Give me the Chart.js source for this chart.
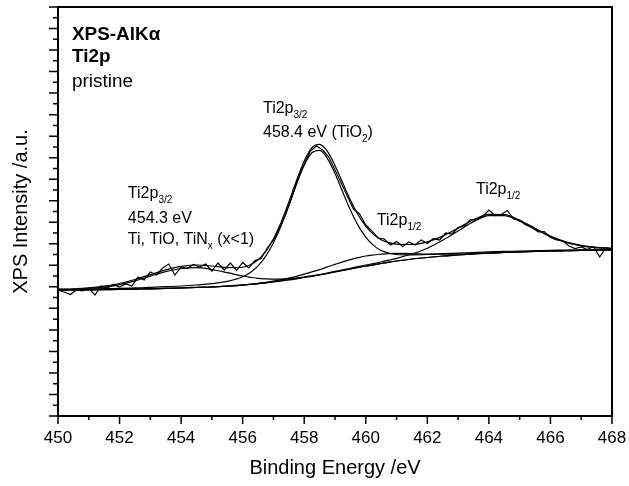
<!DOCTYPE html>
<html><head><meta charset="utf-8">
<script src="https://cdn.jsdelivr.net/npm/chart.js@4.4.0/dist/chart.umd.min.js"></script>
<style>html,body{margin:0;padding:0;background:#fff}</style>
</head><body>
<canvas id="c" width="629" height="486"></canvas>
<script>
// ---- fitted curves (binding energy grid, eV) ----
const fitEnergy = [450,450.5,451,451.5,452,452.5,453,453.5,454,454.5,455,455.5,456,
  456.25,456.5,456.75,457,457.25,457.5,457.75,458,458.25,458.5,458.75,459,459.25,459.5,459.75,460,460.25,460.5,460.75,461,
  461.5,462,462.5,463,463.5,464,464.5,465,465.5,466,466.5,467,467.5,468];
const background = [126,126,126.2,126.4,126.6,126.9,127.2,127.6,128,128.5,129,129.8,130.8,
  131.5,132.2,133.1,134,135,136,137.2,138.5,139.7,141,142.5,144,145.5,147,148.5,150,151.2,152.5,153.8,155,
  157,158.5,160,161,162,162.8,163.5,164,164.5,165,165.3,165.6,165.8,166];
const peakTi32 = [126.1,126.4,127.3,128.8,131.4,135.2,139.9,144.4,147.5,148.3,146.5,143.4,140.0,
  138.7,137.6,137.1,136.8,136.9,137.3,138.0,139.0,140.0,141.2,142.6,144.0,145.5,147,148.5,150,151.2,152.5,153.8,155,
  157,158.5,160,161,162,162.8,163.5,164,164.5,165,165.3,165.6,165.8,166];
const peakTiO2_32 = [126.6,126.7,126.9,127.3,127.6,128.1,128.6,129.3,130.0,131.0,132.3,134.6,139.2,
  143.5,150.1,159.8,173.2,190.3,210.5,231.8,250.8,263.2,265.6,257.7,242.4,224.0,206.0,190.6,178.9,170.6,165.5,162.8,161.5,
  161.1,161.5,162.3,162.9,163.5,164.1,164.6,164.9,165.3,165.7,165.9,166.2,166.3,166.5];
const peakTi12 = [126,126,126.2,126.4,126.6,126.9,127.2,127.6,128,128.5,129,129.85,130.9,
  131.7,132.6,133.7,134.9,136.3,137.8,139.7,141.9,144.1,146.4,149.1,151.6,154.1,156.3,158.3,160.0,161.0,161.8,162.4,162.6,
  162.4,161.9,161.8,161.9,162.4,162.9,163.5,164,164.5,165,165.3,165.6,165.8,166];
const peakTiO2_12 = [126.1,126.1,126.3,126.5,126.7,127.0,127.35,127.75,128.2,128.7,129.2,130.0,131.05,
  131.8,132.5,133.4,134.3,135.3,136.4,137.6,138.9,140.2,141.5,143.0,144.6,146.1,147.7,149.35,151.0,152.4,154.0,155.8,157.7,
  162.0,167.8,175.8,185.1,194.4,200.3,200.4,194.9,186.9,179.3,173.5,170.0,168.2,167.4];
const envelope = [126.8,127.2,128.1,129.8,132.5,136.5,141.4,146.2,149.7,151.0,150.0,148.45,148.75,
  151.2,156.2,164.7,177.2,193.8,214.0,235.5,255.1,268.4,271.7,264.9,250.6,233.2,216.0,201.25,189.9,181.6,176.3,173.4,171.8,
  171.5,174.2,179.9,187.9,196.3,201.7,201.5,195.8,187.7,180.0,174.1,170.55,168.7,167.85];

// ---- measured spectrum ----
const dataEnergy = [450.0,450.2,450.4,450.6,450.8,451.0,451.2,451.4,451.6,451.8,
  452.0,452.2,452.4,452.6,452.8,453.0,453.2,453.4,453.6,453.8,
  454.0,454.2,454.4,454.6,454.8,455.0,455.2,455.4,455.6,455.8,
  456.0,456.2,456.4,456.6,456.8,457.0,457.2,457.4,457.6,457.8,
  458.0,458.2,458.4,458.6,458.8,459.0,459.2,459.4,459.6,459.8,
  460.0,460.2,460.4,460.6,460.8,461.0,461.2,461.4,461.6,461.8,
  462.0,462.2,462.4,462.6,462.8,463.0,463.2,463.4,463.6,463.8,
  464.0,464.2,464.4,464.6,464.8,465.0,465.2,465.4,465.6,465.8,
  466.0,466.2,466.4,466.6,466.8,467.0,467.2,467.4,467.6,467.8,468.0];
const dataIntensity = [126,124,121.5,126,125,128,121,130,128,131.5,
  129,132,130,139,136,144,141,148,152,141,
  149,147.5,151.5,149,152,145,153,146,153,145.5,
  153.5,148,155.5,157.5,168,176,188,202,219,238,
  252,265,270,266,259,246,233,220,207,202,
  191,185,178,177,171,174.5,169.5,174,171,176,
  172.5,177.5,176,183,182,188.5,190,196.5,196,199.5,
  206,200.5,201.5,205.5,197,196,191,188.5,184,184.5,
  178.5,176,175.5,170,167.5,169,166.5,169.5,159,168,
  167];

// ---- axes ----
const xTickValues = [450,452,454,456,458,460,462,464,466,468];
const xTickLabels = ['450','452','454','456','458','460','462','464','466','468'];
const xMin = 450, xMax = 468, yMin = 0, yMax = 409, yMinorCount = 38;

const FONT = '"Liberation Sans", Arial, sans-serif';

function pts(xs, ys){ return xs.map((x,i)=>({x:x, y:ys[i]})); }
function fitSet(label, ys){
  return {label, data: pts(fitEnergy, ys), borderColor:'#000', borderWidth:1.2,
    pointRadius:0, fill:false, cubicInterpolationMode:'monotone'};
}

function rich(ctx, x, y, parts, size, sx, bold){
  ctx.save();
  ctx.translate(x, y);
  ctx.scale(sx, 1);
  let cx = 0;
  for (const p of parts){
    const fs = p.sub ? Math.round(size*0.62) : size;
    ctx.font = (bold?'bold ':'') + fs + 'px ' + FONT;
    ctx.fillText(p.t, cx, p.sub ? Math.round(size*0.3) : 0);
    cx += ctx.measureText(p.t).width;
  }
  ctx.restore();
}

const annotations = [
  {x:450.455, y:376, size:18, sx:1.05, bold:true, parts:[{t:'XPS-AlKα'}]},
  {x:450.455, y:354, size:18, sx:1.05, bold:true, parts:[{t:'Ti2p'}]},
  {x:450.455, y:329, size:18, sx:1.05, parts:[{t:'pristine'}]},
  {x:456.66, y:303, size:16, sx:1, parts:[{t:'Ti2p'},{t:'3/2',sub:true}]},
  {x:456.66, y:279, size:16, sx:1, parts:[{t:'458.4 eV (TiO'},{t:'2',sub:true},{t:')'}]},
  {x:452.27, y:218, size:16, sx:1, parts:[{t:'Ti2p'},{t:'3/2',sub:true}]},
  {x:452.27, y:193, size:16, sx:1, parts:[{t:'454.3 eV'}]},
  {x:452.27, y:172, size:16, sx:1, parts:[{t:'Ti, TiO, TiN'},{t:'x',sub:true},{t:' (x<1)'}]},
  {x:460.36, y:191, size:16, sx:1, parts:[{t:'Ti2p'},{t:'1/2',sub:true}]},
  {x:463.58, y:222, size:16, sx:1, parts:[{t:'Ti2p'},{t:'1/2',sub:true}]}
];

const decor = {
  id:'decor',
  afterDraw(chart){
    const ctx = chart.ctx, a = chart.chartArea, xs = chart.scales.x, ys = chart.scales.y;
    ctx.save();
    ctx.strokeStyle = '#000';
    ctx.lineWidth = 2;
    ctx.strokeRect(a.left, a.top, a.right - a.left, a.bottom - a.top);
    ctx.lineWidth = 1.5;
    ctx.beginPath();
    for (let v = xMin; v <= xMax; v++){
      const px = xs.getPixelForValue(v);
      const len = ((v - xMin) % 2 === 0) ? 8 : 4;
      ctx.moveTo(px, a.bottom); ctx.lineTo(px, a.bottom + len);
    }
    for (let i = 0; i <= yMinorCount; i++){
      const py = ys.getPixelForValue(yMin + i*(yMax-yMin)/yMinorCount);
      const len = (i % 2 === 0) ? 9 : 5;
      ctx.moveTo(a.left - len, py); ctx.lineTo(a.left, py);
    }
    ctx.stroke();
    ctx.fillStyle = '#000';
    // tick labels
    ctx.textAlign = 'center'; ctx.textBaseline = 'middle';
    ctx.font = '17px ' + FONT;
    xTickValues.forEach((v,i)=>{
      ctx.fillText(xTickLabels[i], xs.getPixelForValue(v), a.bottom + 22);
    });
    // axis titles
    ctx.font = '20px ' + FONT;
    ctx.fillText('Binding Energy /eV', (a.left + a.right)/2, 468);
    ctx.save();
    ctx.translate(21, (a.top + a.bottom)/2);
    ctx.rotate(-Math.PI/2);
    ctx.fillText('XPS Intensity /a.u.', 0, 0);
    ctx.restore();
    // annotations
    ctx.textAlign = 'left'; ctx.textBaseline = 'alphabetic';
    for (const an of annotations){
      rich(ctx, xs.getPixelForValue(an.x), ys.getPixelForValue(an.y), an.parts, an.size, an.sx, an.bold);
    }
    ctx.restore();
  }
};

new Chart(document.getElementById('c'), {
  type:'line',
  data:{ datasets:[
    fitSet('Background', background),
    fitSet('Ti 2p3/2', peakTi32),
    fitSet('TiO2 2p3/2', peakTiO2_32),
    fitSet('Ti 2p1/2', peakTi12),
    fitSet('TiO2 2p1/2', peakTiO2_12),
    fitSet('Envelope', envelope),
    {label:'Data', data: pts(dataEnergy, dataIntensity), borderColor:'#000', borderWidth:1.2,
      pointRadius:0, fill:false, tension:0}
  ]},
  options:{
    responsive:false, animation:false, devicePixelRatio:1,
    layout:{padding:{top:7, right:17, left:0, bottom:0}},
    plugins:{legend:{display:false}, tooltip:{enabled:false}},
    scales:{
      x:{type:'linear', min:xMin, max:xMax, ticks:{display:false}, grid:{display:false}, border:{display:false},
         afterFit(s){ s.height = 70; }},
      y:{min:yMin, max:yMax, ticks:{display:false}, grid:{display:false}, border:{display:false},
         afterFit(s){ s.width = 58; }}
    }
  },
  plugins:[decor]
});
</script>
</body></html>
